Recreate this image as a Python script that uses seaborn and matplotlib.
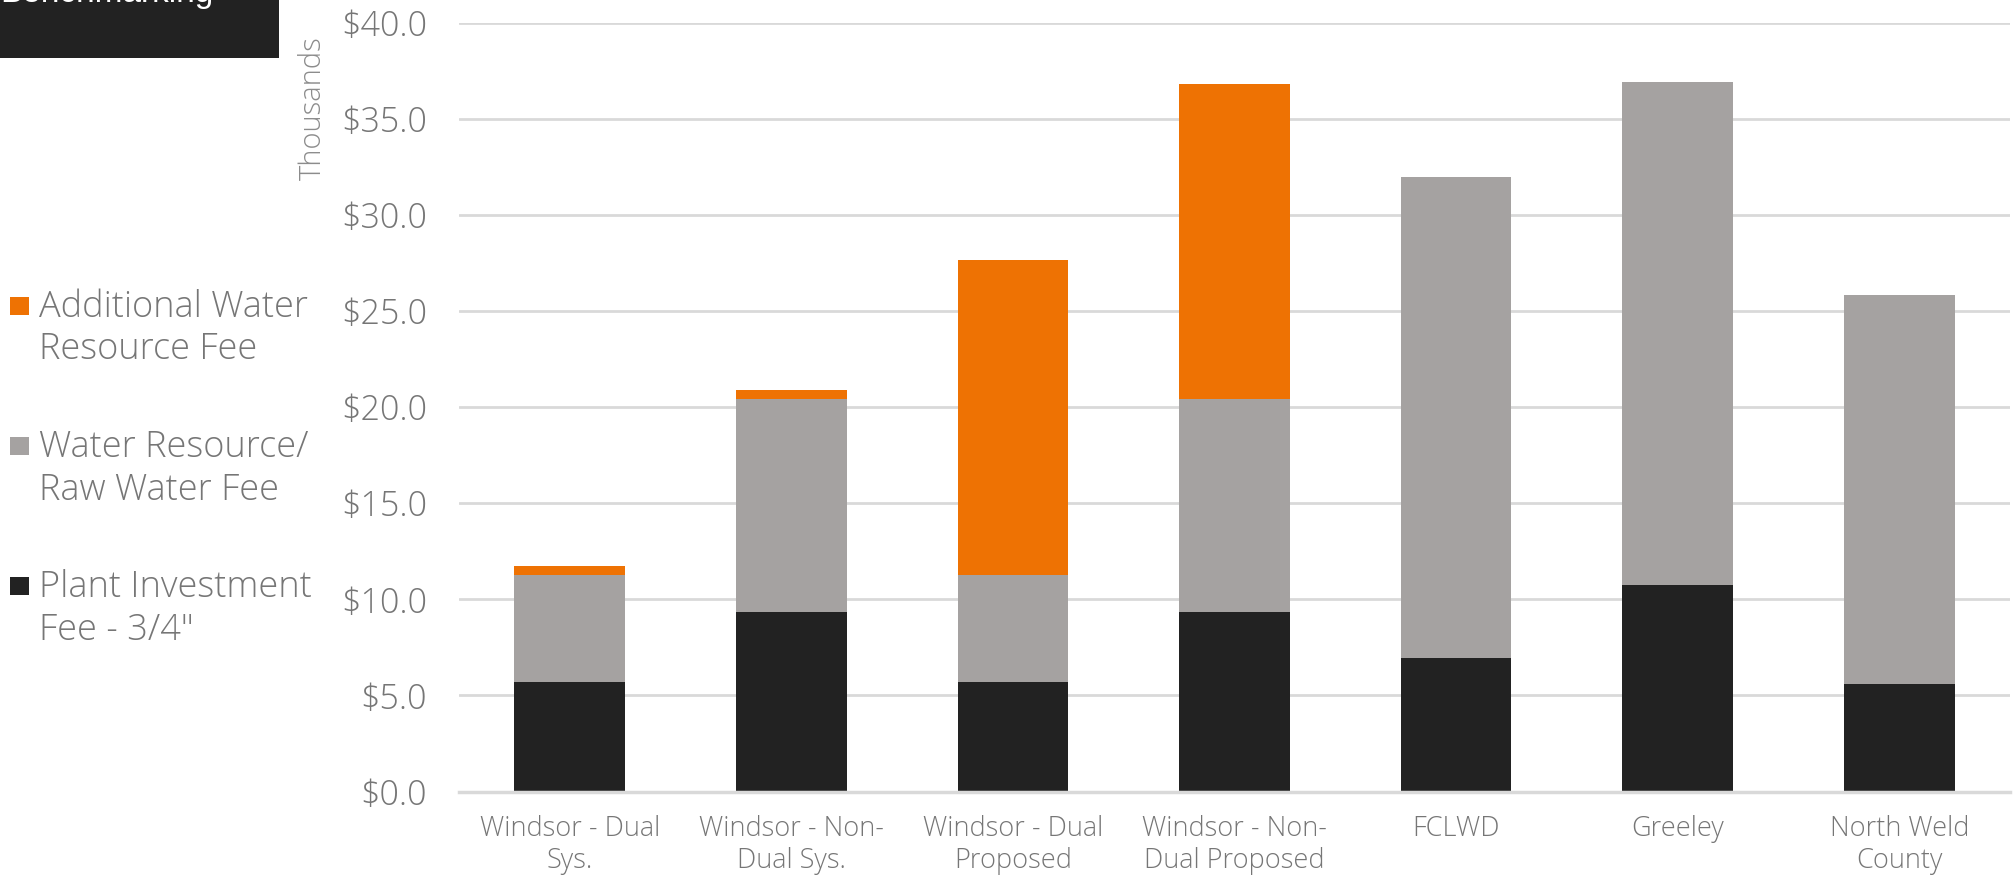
import matplotlib
matplotlib.use("Agg")
import matplotlib.pyplot as plt
import matplotlib.ticker as mticker
from matplotlib.patches import Rectangle
import seaborn as sns
import pandas as pd
import numpy as np

# ---- data (thousands of $) ----
categories = ["Windsor - Dual\nSys.", "Windsor - Non-\nDual Sys.", "Windsor - Dual\nProposed",
              "Windsor - Non-\nDual Proposed", "FCLWD", "Greeley", "North Weld\nCounty"]
plant_investment = [5.71, 9.36, 5.71, 9.36, 6.96, 10.76, 5.58]
raw_water = [5.55, 11.05, 5.55, 11.05, 25.01, 26.14, 20.27]
additional_water = [0.47, 0.46, 16.39, 16.40, 0.0, 0.0, 0.0]
series_labels = [["Additional Water", "Resource Fee"],
                 ["Water Resource/", "Raw Water Fee"],
                 ["Plant Investment", "Fee - 3/4\""]]
y_ticks = [0, 5, 10, 15, 20, 25, 30, 35, 40]

C_ORANGE = "#EE7203"
C_GREY = "#A5A2A1"
C_BLACK = "#222222"
C_TEXT = "#767676"
C_GRID = "#D9D9D9"

df = pd.DataFrame({"cat": categories, "plant": plant_investment,
                   "raw": raw_water, "add": additional_water})
df["lvl2"] = df["plant"] + df["raw"]
df["lvl3"] = df["lvl2"] + df["add"]

sns.set_theme(style="white")
plt.rcParams["font.family"] = ["Open Sans", "DejaVu Sans"]
plt.rcParams["font.weight"] = "light"

W, H = 2013, 876
fig = plt.figure(figsize=(W / 100, H / 100), dpi=100)
ax = fig.add_axes([459 / W, 1 - 791.5 / H, (2010 - 459) / W, (791.5 - 22.7) / H])

for col, color in [("lvl3", C_ORANGE), ("lvl2", C_GREY), ("plant", C_BLACK)]:
    sns.barplot(data=df, x="cat", y=col, order=categories, color=color,
                width=0.5, ax=ax, saturation=1, errorbar=None, zorder=2,
                linewidth=0)

ax.set_ylim(0, 40)
ax.set_xlim(-0.5, len(categories) - 0.5)
ax.set_yticks(y_ticks)
ax.yaxis.set_major_formatter(mticker.FuncFormatter(lambda v, p: f"${v:.1f}"))
ax.set_axisbelow(True)
ax.yaxis.grid(True, color=C_GRID, linewidth=2)
ax.xaxis.grid(False)
for s in ["left", "right", "top"]:
    ax.spines[s].set_visible(False)
ax.spines["bottom"].set_color(C_GRID)
ax.spines["bottom"].set_linewidth(2.5)
ax.tick_params(axis="y", length=0, pad=23, labelsize=24.5, labelcolor=C_TEXT)
ax.tick_params(axis="x", length=0, pad=17, labelsize=19.5, labelcolor=C_TEXT)
for lab in ax.get_xticklabels():
    lab.set_linespacing(1.2)
ax.set_xlabel("")
ax.set_ylabel("")

fig.text(313 / W, 1 - 108 / H, "Thousands", rotation=90, ha="center", va="center",
         fontsize=21, color="#8C8C8C")

# title box
fig.patches.append(Rectangle((0, 1 - 58 / H), 279 / W, 58 / H, transform=fig.transFigure,
                             facecolor="#222222", edgecolor="none", zorder=0))
fig.text(0 / W, 1 - 2 / H, "Benchmarking", ha="left", va="baseline", fontsize=24,
         color="white", family=["Liberation Sans", "DejaVu Sans"], fontweight="normal")

# legend (manual)
legend_colors = [C_ORANGE, C_GREY, C_BLACK]
legend_box_top = [297, 437, 577]
legend_baselines = [[317, 359], [457, 500], [597, 640]]
for lines, col, yt, bls in zip(series_labels, legend_colors, legend_box_top, legend_baselines):
    fig.patches.append(Rectangle((10 / W, 1 - (yt + 18) / H), 19 / W, 18 / H,
                                 transform=fig.transFigure, facecolor=col, edgecolor="none"))
    for txt, bl in zip(lines, bls):
        fig.text(39 / W, 1 - bl / H, txt, ha="left", va="baseline", fontsize=26,
                 color=C_TEXT)

fig.savefig("out.png", dpi=100)
